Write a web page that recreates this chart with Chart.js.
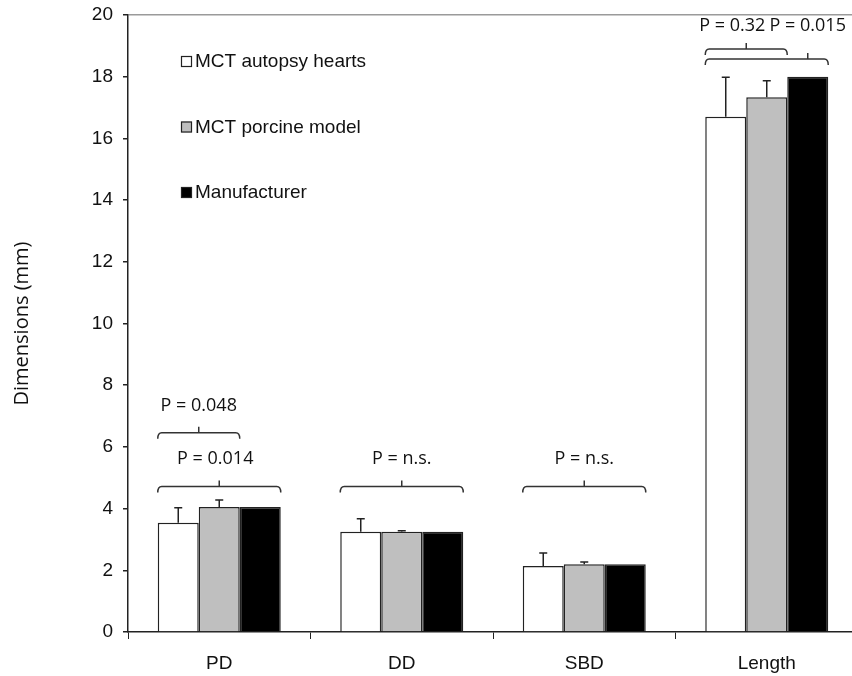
<!DOCTYPE html>
<html>
<head>
<meta charset="utf-8">
<script src="https://cdn.jsdelivr.net/npm/chart.js@4/dist/chart.umd.min.js"></script>
<style>
  html, body { margin: 0; padding: 0; background: #fff; overflow: hidden; }
  #wrap { width: 852px; height: 676px; overflow: hidden; }
</style>
</head>
<body>
<div id="wrap"><canvas id="dims" width="860" height="676"></canvas></div>
<script>
// --- Chart data ---
const categories = ['PD', 'DD', 'SBD', 'Length'];
const seriesNames = ['MCT autopsy hearts', 'MCT porcine model', 'Manufacturer'];
const autopsyValues = [3.54, 3.25, 2.14, 16.7];
const autopsyErrors = [0.49, 0.42, 0.42, 1.28];
const porcineValues = [4.05, 3.25, 2.2, 17.33];
const porcineErrors = [0.23, 0.03, 0.07, 0.54];
const manufacturerValues = [4.05, 3.25, 2.2, 18.0];
const yTicks = [0, 2, 4, 6, 8, 10, 12, 14, 16, 18, 20];

// significance brackets: category, first bar, last bar, bracket level, label
const brackets = [
    { cat: 0, from: 0, to: 1, y: 6.46, label: 'P = 0.048', labelY: 7.34 },
    { cat: 0, from: 0, to: 2, y: 4.72, label: 'P = 0.014', labelY: 5.62, dx: -4 },
    { cat: 1, from: 0, to: 2, y: 4.72, label: 'P = n.s.', labelY: 5.62 },
    { cat: 2, from: 0, to: 2, y: 4.72, label: 'P = n.s.', labelY: 5.62 },
    { cat: 3, from: 0, to: 1, y: 18.9, label: 'P = 0.32', labelY: 19.64, dx: -14 },
    { cat: 3, from: 0, to: 2, y: 18.57, label: 'P = 0.015', labelY: 19.64, tickBar: 2 }
];

const errorsBySeries = [autopsyErrors, porcineErrors, null];

// Error bars (upper half only, like the original figure)
const errorBarPlugin = {
    id: 'errorBars',
    afterDatasetsDraw(chart) {
        const ctx = chart.ctx;
        const yScale = chart.scales.y;
        ctx.save();
        ctx.strokeStyle = '#222';
        ctx.lineWidth = 1.5;
        errorsBySeries.forEach((errs, i) => {
            if (!errs) return;
            const meta = chart.getDatasetMeta(i);
            meta.data.forEach((bar, j) => {
                const v = chart.data.datasets[i].data[j];
                const yTop = yScale.getPixelForValue(v + errs[j]);
                ctx.beginPath();
                ctx.moveTo(bar.x, bar.y);
                ctx.lineTo(bar.x, yTop);
                ctx.moveTo(bar.x - 4, yTop);
                ctx.lineTo(bar.x + 4, yTop);
                ctx.stroke();
            });
        });
        ctx.restore();
    }
};

// Brackets with P values
const bracketPlugin = {
    id: 'brackets',
    afterDatasetsDraw(chart) {
        const ctx = chart.ctx;
        const yScale = chart.scales.y;
        ctx.save();
        ctx.strokeStyle = '#333';
        ctx.lineWidth = 1.5;
        ctx.fillStyle = '#111';
        ctx.font = '18px "Open Sans"';
        ctx.textAlign = 'center';
        ctx.textBaseline = 'middle';
        brackets.forEach(b => {
            const first = chart.getDatasetMeta(b.from).data[b.cat];
            const last = chart.getDatasetMeta(b.to).data[b.cat];
            const x1 = first.x - first.width / 2;
            const x2 = last.x + last.width / 2;
            const y = yScale.getPixelForValue(b.y);
            const mid = b.tickBar !== undefined
                ? chart.getDatasetMeta(b.tickBar).data[b.cat].x
                : (x1 + x2) / 2;
            ctx.beginPath();
            ctx.moveTo(x1, y + 6);
            ctx.quadraticCurveTo(x1, y, x1 + 4, y);
            ctx.lineTo(x2 - 4, y);
            ctx.quadraticCurveTo(x2, y, x2, y + 6);
            ctx.moveTo(mid, y);
            ctx.lineTo(mid, y - 6);
            ctx.stroke();
            ctx.fillText(b.label, mid + (b.dx || 0), yScale.getPixelForValue(b.labelY));
        });
        ctx.restore();
    }
};

// Legend drawn inside the plot area, top left
const innerLegendPlugin = {
    id: 'innerLegend',
    afterDraw(chart) {
        const ctx = chart.ctx;
        ctx.save();
        ctx.font = '19px "Liberation Sans", Arial, sans-serif';
        ctx.textBaseline = 'middle';
        chart.data.datasets.forEach((ds, i) => {
            const y = 62 + i * 65.5;
            ctx.fillStyle = ds.backgroundColor;
            ctx.fillRect(181, y - 6, 11, 11);
            ctx.strokeStyle = '#222';
            ctx.lineWidth = 1.2;
            ctx.strokeRect(181.5, y - 5.5, 10, 10);
            ctx.fillStyle = '#111';
            ctx.fillText(ds.label, 195, y);
        });
        ctx.restore();
    }
};

const barStyle = { borderColor: '#222', borderWidth: 1.5, borderSkipped: 'bottom' };

new Chart(document.getElementById('dims'), {
    type: 'bar',
    data: {
        labels: categories,
        datasets: [
            { label: seriesNames[0], data: autopsyValues, backgroundColor: '#ffffff', ...barStyle },
            { label: seriesNames[1], data: porcineValues, backgroundColor: '#bfbfbf', ...barStyle },
            { label: seriesNames[2], data: manufacturerValues, backgroundColor: '#000000', ...barStyle }
        ]
    },
    options: {
        responsive: false,
        animation: false,
        layout: { padding: { top: 15, right: 2, left: 0, bottom: 0 } },
        datasets: { bar: { categoryPercentage: 0.674, barPercentage: 1.0 } },
        plugins: {
            legend: { display: false },
            tooltip: { enabled: false }
        },
        scales: {
            x: {
                offset: true,
                grid: {
                    offset: true,
                    drawOnChartArea: false,
                    tickColor: '#222',
                    tickLength: 7
                },
                border: { color: '#222', width: 1.5 },
                ticks: {
                    color: '#111',
                    padding: 13,
                    font: { family: '"Liberation Sans", Arial, sans-serif', size: 19 }
                },
                afterFit(scale) { scale.height = 44; }
            },
            y: {
                min: 0,
                max: 20,
                afterBuildTicks(scale) { scale.ticks = yTicks.map(v => ({ value: v })); },
                grid: {
                    color: c => (c.tick && c.tick.value === 20 ? '#9a9a9a' : 'rgba(0,0,0,0)'),
                    lineWidth: 1.5,
                    tickColor: '#222',
                    tickLength: 5
                },
                border: { color: '#222', width: 1.5 },
                ticks: {
                    color: '#111',
                    padding: 10,
                    font: { family: '"Liberation Sans", Arial, sans-serif', size: 19 }
                },
                title: {
                    display: true,
                    text: 'Dimensions (mm)',
                    color: '#111',
                    padding: { top: 10, bottom: 0 },
                    font: { family: '"Open Sans"', size: 20 }
                },
                afterFit(scale) {
                    scale.width = 128;
                    scale.paddingTop = 0;
                    scale.paddingBottom = 0;
                }
            }
        }
    },
    plugins: [errorBarPlugin, bracketPlugin, innerLegendPlugin]
});
</script>
</body>
</html>
